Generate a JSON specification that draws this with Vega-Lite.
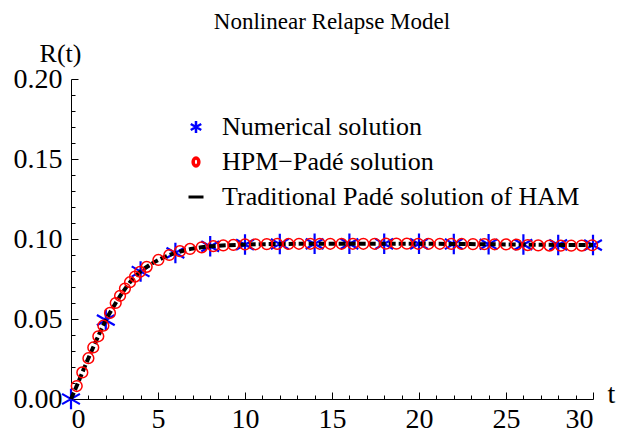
{
  "$schema": "https://vega.github.io/schema/vega-lite/v6.json",
  "width": 522,
  "height": 320,
  "autosize": {"type": "none"},
  "padding": {"left": 71, "top": 79, "right": 24, "bottom": 38},
  "background": "white",
  "title": {"text": "Nonlinear Relapse Model", "font": "Liberation Serif", "fontSize": 23, "fontWeight": "normal", "color": "black", "anchor": "middle", "frame": "group", "baseline": "alphabetic", "offset": -12},
  "config": {
    "view": {"stroke": null},
    "axis": {"grid": false, "domainColor": "black", "tickColor": "black", "labelColor": "black", "labelFont": "Liberation Serif", "labelFontSize": 28, "titleFont": "Liberation Serif", "titleFontSize": 26, "titleFontWeight": "normal", "titleColor": "black", "domainWidth": 1, "tickWidth": 1}
  },
  "datasets": {
    "pade": [
      {"t": 0, "R": 0}, {"t": 0.25, "R": 0.0062}, {"t": 0.5, "R": 0.0126}, {"t": 0.75, "R": 0.0192}, {"t": 1, "R": 0.0255},
      {"t": 1.5, "R": 0.0377}, {"t": 2, "R": 0.0493}, {"t": 2.5, "R": 0.0588}, {"t": 3, "R": 0.0672}, {"t": 3.5, "R": 0.0744},
      {"t": 4, "R": 0.0797}, {"t": 4.5, "R": 0.0836}, {"t": 5, "R": 0.0868}, {"t": 5.5, "R": 0.0893}, {"t": 6, "R": 0.0913},
      {"t": 6.5, "R": 0.0928}, {"t": 7, "R": 0.0940}, {"t": 7.5, "R": 0.0948}, {"t": 8, "R": 0.0954}, {"t": 9, "R": 0.0961},
      {"t": 10, "R": 0.0965}, {"t": 12, "R": 0.0969}, {"t": 14, "R": 0.0970}, {"t": 16, "R": 0.0970}, {"t": 18, "R": 0.0970},
      {"t": 20, "R": 0.0970}, {"t": 22, "R": 0.0969}, {"t": 24, "R": 0.0967}, {"t": 26, "R": 0.0965}, {"t": 28, "R": 0.0963}, {"t": 30, "R": 0.0962}
    ],
    "numerical": [
      {"t": 0, "R": 0}, {"t": 2, "R": 0.0493}, {"t": 4, "R": 0.0797}, {"t": 6, "R": 0.0913}, {"t": 8, "R": 0.0954},
      {"t": 10, "R": 0.0965}, {"t": 12, "R": 0.0969}, {"t": 14, "R": 0.0970}, {"t": 16, "R": 0.0970}, {"t": 18, "R": 0.0970},
      {"t": 20, "R": 0.0970}, {"t": 22, "R": 0.0969}, {"t": 24, "R": 0.0967}, {"t": 26, "R": 0.0965}, {"t": 28, "R": 0.0963}, {"t": 30, "R": 0.0962}
    ],
    "hpm": [
      {"t": 0.33, "R": 0.0081}, {"t": 0.65, "R": 0.0166}, {"t": 1.0, "R": 0.0255}, {"t": 1.28, "R": 0.0322}, {"t": 1.57, "R": 0.0392},
      {"t": 1.86, "R": 0.0458}, {"t": 2.24, "R": 0.0538}, {"t": 2.57, "R": 0.0600}, {"t": 2.82, "R": 0.0645}, {"t": 3.1, "R": 0.0690},
      {"t": 3.39, "R": 0.0730}, {"t": 3.68, "R": 0.0765}, {"t": 3.97, "R": 0.0795}, {"t": 4.35, "R": 0.0826}, {"t": 5.02, "R": 0.0869},
      {"t": 5.65, "R": 0.0900}, {"t": 6.26, "R": 0.0924}, {"t": 6.84, "R": 0.0938}, {"t": 7.51, "R": 0.0948}, {"t": 8.18, "R": 0.0955},
      {"t": 8.75, "R": 0.0960}, {"t": 9.33, "R": 0.0963}, {"t": 10.0, "R": 0.0966}, {"t": 10.6, "R": 0.0967}, {"t": 11.25, "R": 0.0968},
      {"t": 11.85, "R": 0.0969}, {"t": 12.5, "R": 0.0969}, {"t": 13.1, "R": 0.0970}, {"t": 13.75, "R": 0.0970}, {"t": 14.3, "R": 0.0970},
      {"t": 14.9, "R": 0.0970}, {"t": 15.55, "R": 0.0970}, {"t": 16.2, "R": 0.0970}, {"t": 16.8, "R": 0.0970}, {"t": 17.45, "R": 0.0970},
      {"t": 18.1, "R": 0.0971}, {"t": 18.7, "R": 0.0971}, {"t": 19.3, "R": 0.0971}, {"t": 19.95, "R": 0.0970}, {"t": 20.55, "R": 0.0970},
      {"t": 21.2, "R": 0.0970}, {"t": 21.85, "R": 0.0969}, {"t": 22.45, "R": 0.0969}, {"t": 23.1, "R": 0.0968}, {"t": 23.75, "R": 0.0968},
      {"t": 24.35, "R": 0.0967}, {"t": 25.0, "R": 0.0966}, {"t": 25.6, "R": 0.0965}, {"t": 26.25, "R": 0.0962}, {"t": 26.85, "R": 0.0960},
      {"t": 27.5, "R": 0.0959}, {"t": 28.15, "R": 0.0958}, {"t": 28.75, "R": 0.0958}, {"t": 29.35, "R": 0.0959}, {"t": 29.95, "R": 0.0961}
    ]
  },
  "layer": [
    {
      "data": {"name": "numerical"},
      "mark": {"type": "point", "shape": "M0,-1L0,1M-0.87,-0.5L0.87,0.5M-0.87,0.5L0.87,-0.5", "filled": false, "size": 420, "strokeWidth": 2.2, "opacity": 1, "clip": false},
      "encoding": {
        "x": {"field": "t", "type": "quantitative", "scale": {"domain": [0, 30], "nice": false, "zero": false},
              "axis": {"orient": "bottom", "values": [1,2,3,4,6,7,8,9,11,12,13,14,16,17,18,19,21,22,23,24,26,27,28,29], "labels": false, "domain": false, "tickSize": -4, "title": null}},
        "y": {"field": "R", "type": "quantitative", "scale": {"domain": [0, 0.2], "nice": false, "zero": false},
              "axis": {"orient": "left", "values": [0.01,0.02,0.03,0.04,0.06,0.07,0.08,0.09,0.11,0.12,0.13,0.14,0.16,0.17,0.18,0.19], "labels": false, "domain": false, "tickSize": -4, "title": null}},
        "color": {"datum": "Numerical solution", "type": "nominal",
          "scale": {"domain": ["Numerical solution", "HPM−Padé solution", "Traditional Padé solution of HAM"], "range": ["#0000ff", "#ff0000", "#000000"]},
          "legend": {
            "orient": "none", "legendX": 112, "legendY": 35, "title": null, "padding": 0,
            "labelFont": "Liberation Serif", "labelFontSize": 26, "labelColor": "black", "labelOffset": 13, "labelLimit": 0,
            "symbolSize": 225, "rowPadding": 9,
            "encoding": {"symbols": {
              "shape": {"value": {"expr": "datum.value === 'Numerical solution' ? 'M0,-0.8L0,0.8M-0.7,-0.4L0.7,0.4M-0.7,0.4L0.7,-0.4' : datum.value === 'Traditional Padé solution of HAM' ? 'M-1,0L1,0' : 'M-0.38,0A0.38,0.52 0 1,0 0.38,0A0.38,0.52 0 1,0 -0.38,0Z'"}},
              "stroke": {"value": {"expr": "datum.value === 'Numerical solution' ? '#0000ff' : datum.value === 'Traditional Padé solution of HAM' ? '#000000' : '#ff0000'"}},
              "strokeWidth": {"value": {"expr": "datum.value === 'Numerical solution' ? 2.5 : datum.value === 'Traditional Padé solution of HAM' ? 3 : 3.5"}},
              "fill": {"value": "transparent"},
              "strokeDash": {"value": []},
              "opacity": {"value": 1}
            }}
          }
        }
      }
    },
    {
      "data": {"name": "pade"},
      "mark": {"type": "line", "strokeWidth": 4, "strokeDash": [7, 3], "interpolate": "monotone", "clip": false},
      "encoding": {
        "x": {"field": "t", "type": "quantitative",
              "axis": {"orient": "bottom", "values": [0, 5, 10, 15, 20, 25, 30], "tickSize": -7, "labelPadding": 13, "title": "t", "titleFontSize": 28, "titleAngle": 0, "titleX": 540, "titleY": 3, "titleAlign": "center", "titleBaseline": "alphabetic"}},
        "y": {"field": "R", "type": "quantitative",
              "axis": {"orient": "left", "values": [0, 0.05, 0.1, 0.15, 0.2], "format": ".2f", "tickSize": -7, "labelPadding": 16, "title": "R(t)", "titleAngle": 0, "titleX": -11, "titleY": -18, "titleAlign": "center", "titleBaseline": "alphabetic"}},
        "color": {"datum": "Traditional Padé solution of HAM", "type": "nominal"}
      }
    },
    {
      "data": {"name": "hpm"},
      "mark": {"type": "point", "shape": "circle", "filled": false, "size": 115, "strokeWidth": 1.5, "opacity": 1, "clip": false},
      "encoding": {
        "x": {"field": "t", "type": "quantitative", "axis": null},
        "y": {"field": "R", "type": "quantitative", "axis": null},
        "color": {"datum": "HPM−Padé solution", "type": "nominal"}
      }
    }
  ],
  "resolve": {"axis": {"x": "independent", "y": "independent"}}
}
